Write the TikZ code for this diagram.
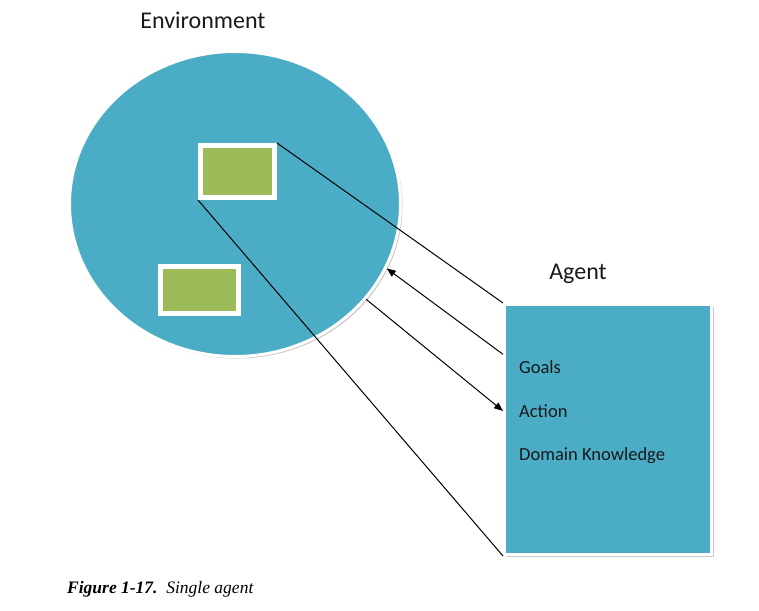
\documentclass[tikz,border=0pt]{standalone}
\usepackage{fontspec}
\setmainfont{Carlito}
\newfontfamily\capfont{Liberation Serif}
\usetikzlibrary{arrows.meta,calc,positioning,shapes.geometric,shadows}
\definecolor{envblue}{HTML}{4BACC6}
\definecolor{boxgreen}{HTML}{9BBB59}
\tikzset{
  shade box/.style={drop shadow={shadow xshift=2pt,shadow yshift=-2pt,fill=black!35,opacity=.6}},
  world/.style={ellipse,fill=envblue,draw=white,line width=3pt,shade box},
  thing/.style={rectangle,fill=boxgreen,draw=white,line width=5pt,shade box},
  agentbox/.style={rectangle,fill=envblue,draw=white,line width=3pt,shade box},
  label text/.style={font=\fontsize{24}{28}\selectfont,text=black!90},
  item text/.style={font=\fontsize{18.5}{22}\selectfont,text=black!90,anchor=west,inner sep=0pt},
}
\begin{document}
\begin{tikzpicture}[x=1pt,y=-1pt]
\useasboundingbox (0,0) rectangle (759,610);
\node[world,minimum width=331pt,minimum height=305pt] (env) at (235,204) {};
\node[thing,minimum width=74pt,minimum height=52pt] (box1) at (237.5,171.5) {};
\node[thing,minimum width=78pt,minimum height=47pt] (box2) at (199.5,290) {};
\node[agentbox,minimum width=207pt,minimum height=250pt] (agent) at (608,429.5) {};
\node[label text] (envname) at (203,20) {Environment};
\node[label text] (agentname) at (578,274) {Agent};
\node[item text] (goals) at (519,367) {Goals};
\node[item text] (action) at (519,411) {Action};
\node[item text] (knowledge) at (519,456) {Domain Knowledge};
\node[anchor=west,inner sep=0pt,font=\capfont\fontsize{17.5}{20}\selectfont] (caption) at (67,589)
  {\textbf{\textit{Figure 1-17.}}\enspace\textit{Single agent}};
\coordinate (goalsin) at ([yshift=6pt]agent.west |- goals.north);
\coordinate (actionin) at (agent.west |- action.west);
\path[draw=black,line width=1pt,>={Triangle[length=9pt,width=7pt]}]
(box1.north east) edge (agent.north west)
(box1.south west) edge (agent.south west)
(goalsin) edge[->] (env.-23)
(env.-36) edge[->] (actionin);
\end{tikzpicture}
\end{document}
